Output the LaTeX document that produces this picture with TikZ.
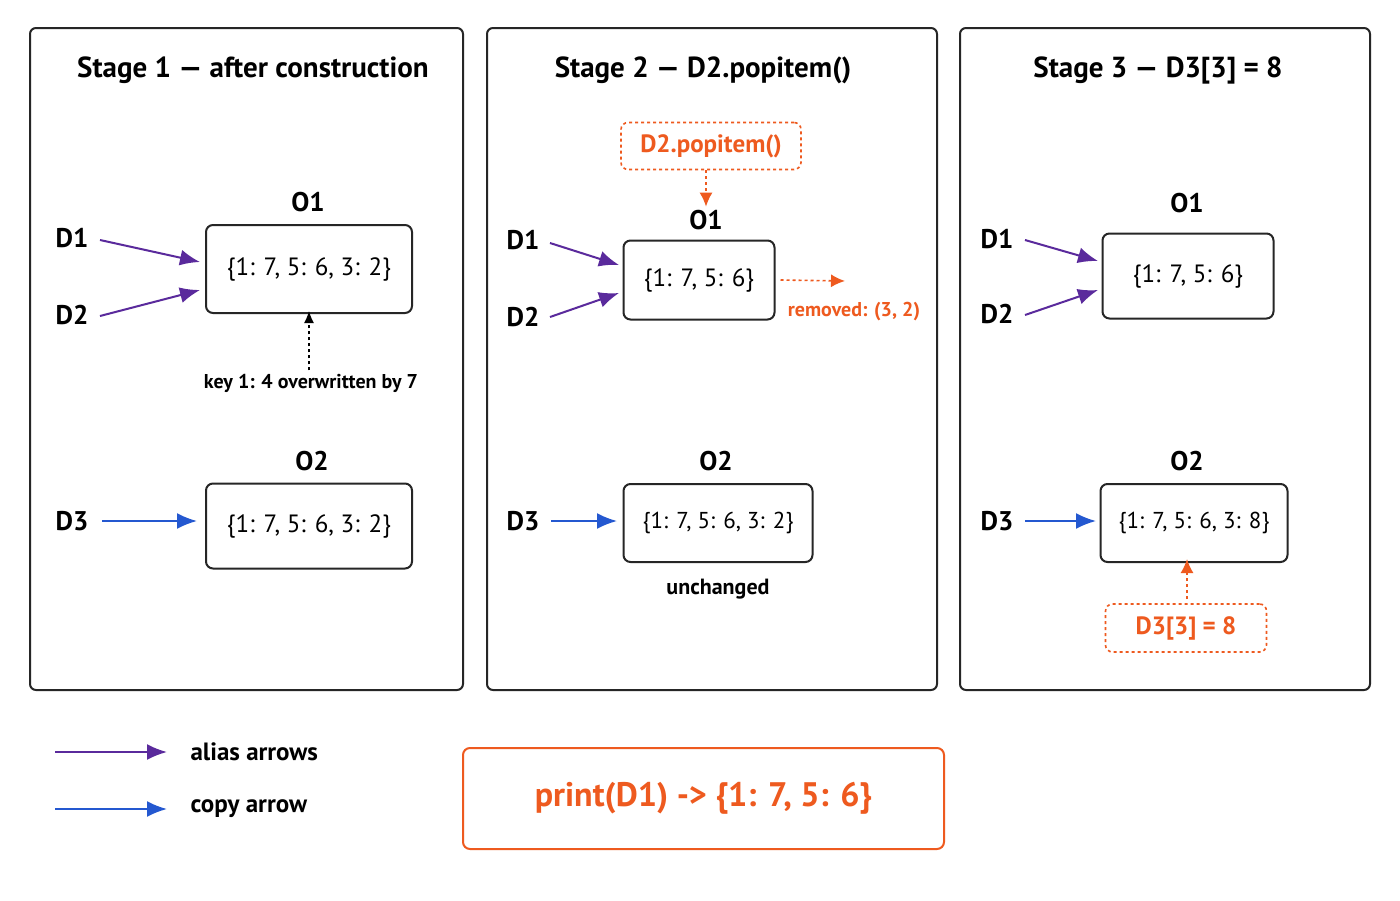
\documentclass[tikz,border=0pt]{standalone}
\usepackage{fontspec}
\setmainfont{PT Sans}
\usetikzlibrary{arrows.meta}
\definecolor{pur}{HTML}{5A2A9C}
\definecolor{blu}{HTML}{2458D0}
\definecolor{ora}{HTML}{EE5A1F}
\begin{document}
\begin{tikzpicture}[x=1pt,y=-1pt,
 panel/.style={draw=black!85,line width=2pt,rounded corners=6pt},
 obj/.style={draw=black!85,line width=2pt,rounded corners=7pt},
 title/.style={font=\fontsize{29}{34}\selectfont\bfseries},
 lab/.style={font=\fontsize{27}{31}\selectfont\bfseries},
 val/.style={font=\fontsize{25}{29}\selectfont},
 sval/.style={font=\fontsize{23}{27}\selectfont},
 note/.style={font=\fontsize{20}{24}\selectfont\bfseries},
 alias/.style={pur,line width=2pt,-{Latex[length=20pt,width=16pt]}},
 copy/.style={blu,line width=2pt,-{Latex[length=20pt,width=16pt]}},
 odash/.style={ora,line width=1.6pt,dashed,-{Latex[length=14pt,width=13pt]}},
 odbox/.style={draw=ora,line width=1.6pt,dashed,rounded corners=7pt,text=ora}]
\useasboundingbox[fill=white] (0,0) rectangle (1400,900);
% panels
\draw[panel] (30,28) rectangle (463,690);
\draw[panel] (487,28) rectangle (937,690);
\draw[panel] (960,28) rectangle (1370,690);
\node[title] (t1) at (253,70) {Stage 1 — after construction};
\node[title] (t2) at (703,70) {Stage 2 — D2.popitem()};
\node[title] (t3) at (1158,70) {Stage 3 — D3[3] = 8};
% stage 1
\node[lab] (o1a) at (308,202) {O1};
\node[obj,val,minimum width=206pt,minimum height=88pt] (b1a) at (309,269) {\{1: 7, 5: 6, 3: 2\}};
\node[lab] (d1a) at (72,238) {D1};
\node[lab] (d2a) at (72,315) {D2};
\draw[alias] (100,240) -- (200,262);
\draw[alias] (100,316) -- (200,290);
\node[note] (k1) at (311,383) {key 1: 4 overwritten by 7};
\draw[black,line width=1.4pt,dashed,-{Latex[length=12pt,width=10pt]}] (k1.north -| b1a.south) -- ([yshift=3pt]b1a.south);
\node[lab] (o2a) at (312,461) {O2};
\node[obj,val,minimum width=206pt,minimum height=85pt] (b2a) at (309,526) {\{1: 7, 5: 6, 3: 2\}};
\node[lab] (d3a) at (72,521) {D3};
\draw[copy] (102,521) -- (197,521);
% stage 2
\node[odbox,font=\fontsize{25}{29}\selectfont\bfseries,minimum width=180pt,minimum height=47pt] (pop) at (711,146) {D2.popitem()};
\node[lab] (o1b) at (706,220) {O1};
\draw[odash] (pop.south -| o1b) -- (o1b.north);
\node[obj,val,minimum width=151pt,minimum height=79pt] (b1b) at (699,280) {\{1: 7, 5: 6\}};
\node[lab] (d1b) at (523,240) {D1};
\node[lab] (d2b) at (523,317) {D2};
\draw[alias] (550,243) -- (619,265);
\draw[alias] (550,317) -- (619,293);
\coordinate (rm) at (845,281);
\draw[odash] ([xshift=5pt]b1b.east) -- (rm);
\node[note,text=ora] (rmt) at (854,312) {removed: (3, 2)};
\node[lab] (o2b) at (716,461) {O2};
\node[obj,sval,minimum width=189pt,minimum height=78pt] (b2b) at (718,523) {\{1: 7, 5: 6, 3: 2\}};
\node[lab] (d3b) at (523,521) {D3};
\draw[copy] (551,521) -- (617,521);
\node[lab,font=\fontsize{22}{26}\selectfont\bfseries] (unc) at (718,589) {unchanged};
% stage 3
\node[lab] (o1c) at (1187,203) {O1};
\node[obj,val,minimum width=171pt,minimum height=85pt] (b1c) at (1188,276) {\{1: 7, 5: 6\}};
\node[lab] (d1c) at (997,239) {D1};
\node[lab] (d2c) at (997,314) {D2};
\draw[alias] (1025,240) -- (1098,261);
\draw[alias] (1025,315) -- (1098,290);
\node[lab] (o2c) at (1187,461) {O2};
\node[obj,sval,minimum width=187pt,minimum height=78pt] (b2c) at (1194,523) {\{1: 7, 5: 6, 3: 8\}};
\node[lab] (d3c) at (997,521) {D3};
\draw[copy] (1025,521) -- (1096,521);
\node[odbox,font=\fontsize{25}{29}\selectfont\bfseries,minimum width=161pt,minimum height=48pt] (set) at (1186,628) {D3[3] = 8};
\draw[odash] (set.north -| b2c) ++(-7,-4) -- ([xshift=-7pt,yshift=4pt]b2c.south);
% legend
\coordinate (la1) at (55,752); \coordinate (la2) at (167,752);
\coordinate (lb1) at (55,809); \coordinate (lb2) at (167,809);
\draw[alias] (la1) -- (la2);
\draw[copy] (lb1) -- (lb2);
\node[lab,font=\fontsize{25}{29}\selectfont\bfseries,anchor=west] (l1) at (187,752) {alias arrows};
\node[lab,font=\fontsize{25}{29}\selectfont\bfseries,anchor=west] (l2) at (187,809) {copy arrow};
\node[draw=ora,line width=2pt,rounded corners=7pt,text=ora,minimum width=481pt,minimum height=101pt,font=\fontsize{34}{40}\selectfont\bfseries] (pr) at (703.5,798.5) {print(D1) -> \{1: 7, 5: 6\}};
\end{tikzpicture}
\end{document}
